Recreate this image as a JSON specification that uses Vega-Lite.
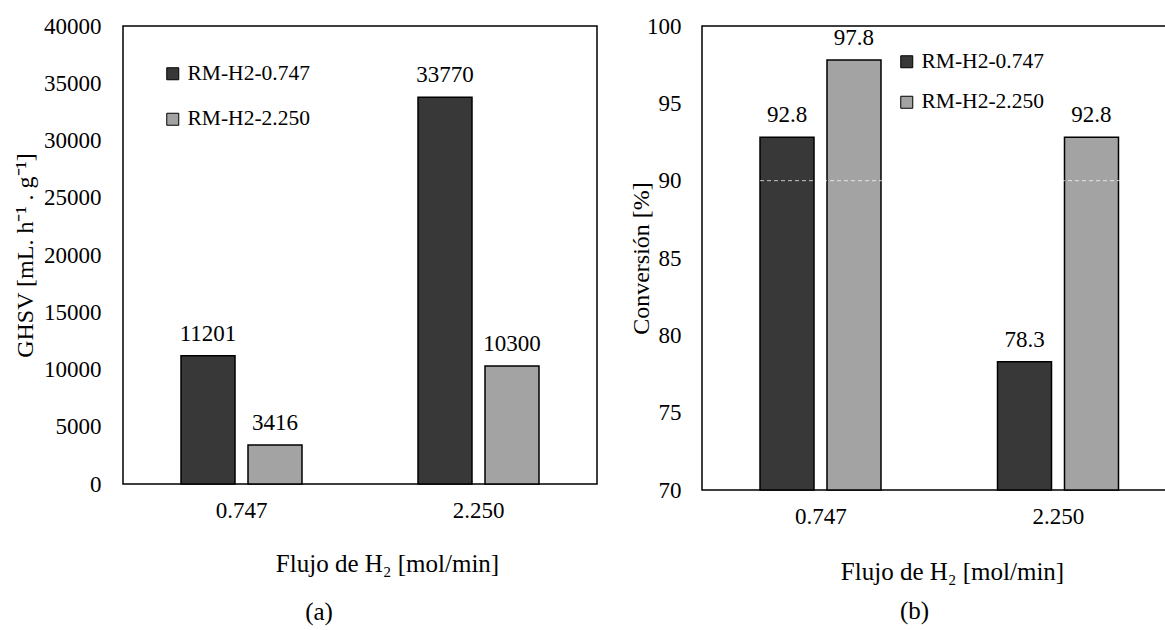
{
  "$schema": "https://vega.github.io/schema/vega-lite/v6.json",
  "background": "white",
  "padding": {"left": 12, "top": 14, "right": -9, "bottom": 0},
  "spacing": 30,
  "resolve": {"scale": {"color": "independent"}, "legend": {"color": "independent"}},
  "config": {
    "font": "Liberation Serif",
    "view": {"stroke": "black", "strokeWidth": 1.5},
    "axis": {
      "labelFont": "Liberation Serif",
      "titleFont": "Liberation Serif",
      "labelColor": "black",
      "titleColor": "black",
      "labelFontSize": 23,
      "titleFontSize": 24,
      "titleFontWeight": "normal",
      "ticks": false,
      "tickSize": 0,
      "domain": false,
      "grid": false
    },
    "legend": {
      "labelFont": "Liberation Serif",
      "labelColor": "black",
      "labelFontSize": 21.5,
      "symbolType": "square",
      "symbolSize": 144,
      "symbolStrokeColor": "black",
      "symbolStrokeWidth": 1,
      "labelOffset": 4,
      "padding": 0
    },
    "title": {"font": "Liberation Serif", "fontSize": 25, "fontWeight": "normal", "color": "black"}
  },
  "datasets": {
    "ghsv": [
      {"flujo": "0.747", "serie": "RM-H2-0.747", "valor": 11201},
      {"flujo": "0.747", "serie": "RM-H2-2.250", "valor": 3416},
      {"flujo": "2.250", "serie": "RM-H2-0.747", "valor": 33770},
      {"flujo": "2.250", "serie": "RM-H2-2.250", "valor": 10300}
    ],
    "conv": [
      {"flujo": "0.747", "serie": "RM-H2-0.747", "valor": 92.8},
      {"flujo": "0.747", "serie": "RM-H2-2.250", "valor": 97.8},
      {"flujo": "2.250", "serie": "RM-H2-0.747", "valor": 78.3},
      {"flujo": "2.250", "serie": "RM-H2-2.250", "valor": 92.8}
    ]
  },
  "hconcat": [
    {
      "width": 474,
      "height": 458,
      "title": {"text": "(a)", "orient": "bottom", "frame": "group", "anchor": "middle", "dx": -41, "offset": 24},
      "data": {"name": "ghsv"},
      "layer": [
        {
          "mark": {"type": "bar", "stroke": "black", "strokeWidth": 1.5},
          "encoding": {
            "x": {"field": "flujo", "type": "nominal", "sort": ["0.747", "2.250"],
              "scale": {"paddingInner": 0, "paddingOuter": 0},
              "axis": {"labelAngle": 0, "labelPadding": 15, "title": "Flujo de H₂ [mol/min]", "titleFontSize": 25, "titleX": 264, "titleY": 79, "titleBaseline": "middle", "titleAlign": "center"}},
            "xOffset": {"field": "serie", "type": "nominal", "sort": ["RM-H2-0.747", "RM-H2-2.250"],
              "scale": {"paddingInner": 0.194, "paddingOuter": 0.866}},
            "y": {"field": "valor", "type": "quantitative",
              "scale": {"domain": [0, 40000]},
              "axis": {"values": [0, 5000, 10000, 15000, 20000, 25000, 30000, 35000, 40000], "format": "d", "labelPadding": 22, "title": "GHSV [mL. h⁻¹ . g⁻¹]", "titleX": -98, "titleBaseline": "middle"}},
            "color": {"field": "serie", "type": "nominal",
              "scale": {"domain": ["RM-H2-0.747", "RM-H2-2.250"], "range": ["#383838", "#a3a3a3"]},
              "legend": {"orient": "none", "legendX": 39, "legendY": 37, "title": null, "rowPadding": 22.5}}
          }
        },
        {
          "mark": {"type": "text", "baseline": "bottom", "dy": -10, "fontSize": 23, "font": "Liberation Serif", "color": "black"},
          "encoding": {
            "x": {"field": "flujo", "type": "nominal", "sort": ["0.747", "2.250"]},
            "xOffset": {"field": "serie", "type": "nominal", "sort": ["RM-H2-0.747", "RM-H2-2.250"]},
            "y": {"field": "valor", "type": "quantitative"},
            "text": {"field": "valor", "type": "quantitative", "format": "d"}
          }
        }
      ]
    },
    {
      "width": 475,
      "height": 464,
      "title": {"text": "(b)", "orient": "bottom", "frame": "group", "anchor": "middle", "dx": -25, "offset": 15},
      "data": {"name": "conv"},
      "layer": [
        {
          "mark": {"type": "bar", "stroke": "black", "strokeWidth": 1.5},
          "encoding": {
            "x": {"field": "flujo", "type": "nominal", "sort": ["0.747", "2.250"],
              "scale": {"paddingInner": 0, "paddingOuter": 0},
              "axis": {"labelAngle": 0, "labelPadding": 15, "title": "Flujo de H₂ [mol/min]", "titleFontSize": 25, "titleX": 250, "titleY": 81, "titleBaseline": "middle", "titleAlign": "center"}},
            "xOffset": {"field": "serie", "type": "nominal", "sort": ["RM-H2-0.747", "RM-H2-2.250"],
              "scale": {"paddingInner": 0.194, "paddingOuter": 0.866}},
            "y": {"field": "valor", "type": "quantitative",
              "scale": {"domain": [70, 100], "zero": false},
              "axis": {"values": [70, 75, 80, 85, 90, 95, 100], "labelPadding": 21, "title": "Conversión [%]", "titleX": -61, "titleBaseline": "middle"}},
            "y2": {"datum": 70},
            "color": {"field": "serie", "type": "nominal",
              "scale": {"domain": ["RM-H2-0.747", "RM-H2-2.250"], "range": ["#383838", "#a3a3a3"]},
              "legend": {"orient": "none", "legendX": 194, "legendY": 25, "title": null, "rowPadding": 17.5}}
          }
        },
        {
          "data": {"values": [{}]},
          "mark": {"type": "rule", "stroke": "white", "strokeDash": [4, 3], "strokeWidth": 1, "opacity": 0.7},
          "encoding": {"y": {"datum": 90}}
        },
        {
          "mark": {"type": "text", "baseline": "bottom", "dy": -10, "fontSize": 23, "font": "Liberation Serif", "color": "black"},
          "encoding": {
            "x": {"field": "flujo", "type": "nominal", "sort": ["0.747", "2.250"]},
            "xOffset": {"field": "serie", "type": "nominal", "sort": ["RM-H2-0.747", "RM-H2-2.250"]},
            "y": {"field": "valor", "type": "quantitative"},
            "text": {"field": "valor", "type": "quantitative", "format": ".1f"}
          }
        }
      ]
    }
  ]
}
